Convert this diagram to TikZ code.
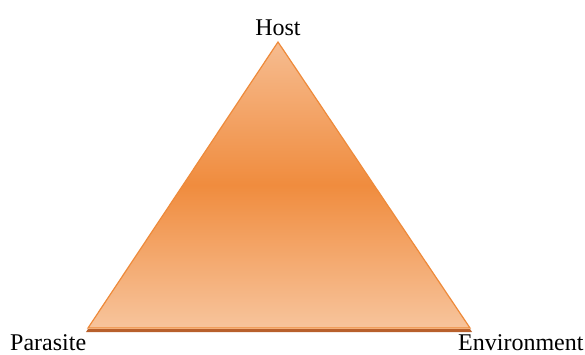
\documentclass[tikz,border=0pt]{standalone}
\usepackage{fontspec}
\setmainfont{Liberation Serif}
\definecolor{triTop}{HTML}{F6BC90}
\definecolor{triMid}{HTML}{F08C3E}
\definecolor{triBot}{HTML}{F7C49C}
\definecolor{triEdge}{HTML}{EE8A3A}
\definecolor{triShadow}{HTML}{B8602C}
\tikzset{
    label/.style={font=\fontsize{24}{28}\selectfont, inner sep=0pt, anchor=base}
}
\begin{document}
\begin{tikzpicture}[x=1pt, y=-1pt]
        \useasboundingbox (0,0) rectangle (585,354);
        % corners
        \coordinate (top) at (278,42);
        \coordinate (left) at (88,328);
        \coordinate (right) at (470,328);

        % shadow under the base
        \fill[triShadow] ([yshift=-1pt]left) -- ([yshift=-1pt]right) -- ([xshift=2pt,yshift=-4pt]right) -- ([xshift=-2pt,yshift=-4pt]left) -- cycle;
        % triangle
        \draw[triEdge, line width=1.2pt, line join=miter, top color=triTop, bottom color=triBot, middle color=triMid] (top) -- (right) -- (left) -- cycle;

        % labels
        \node[label] (host) at (278,35) {Host};
        \node[label, anchor=base west] (parasite) at (10,350) {Parasite};
        \node[label, anchor=base west] (environment) at (458,350) {Environment};
    \end{tikzpicture}
\end{document}
